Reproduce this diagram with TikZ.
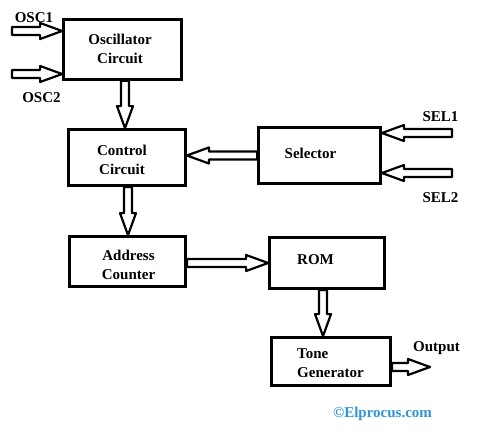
\documentclass[tikz,border=0pt]{standalone}
\usepackage{fontspec}
\setmainfont{Liberation Serif}
\usetikzlibrary{calc}
\definecolor{elp}{RGB}{45,150,215}
\tikzset{
  box/.style={draw, line width=2.8pt, rectangle, inner sep=0pt},
  lbl/.style={font=\fontsize{15}{19}\selectfont\bfseries, inner sep=0pt, align=center},
  blockarrow/.style={draw, line width=2.2pt, line join=round, fill=white, to path={
    let \p1=(\tikztostart), \p2=(\tikztotarget),
        \n1={veclen(\x2-\x1,\y2-\y1)}, \n2={atan2(\y2-\y1,\x2-\x1)} in
    ($(\p1)+(\n2+90:4pt)$) -- ($(\p1)+(\n2:{\n1-22pt})+(\n2+90:4pt)$)
    -- ($(\p1)+(\n2:{\n1-22pt})+(\n2+90:8pt)$) -- (\p2)
    -- ($(\p1)+(\n2:{\n1-22pt})+(\n2-90:8pt)$) -- ($(\p1)+(\n2:{\n1-22pt})+(\n2-90:4pt)$)
    -- ($(\p1)+(\n2-90:4pt)$) -- cycle
  }}
}
\begin{document}
\begin{tikzpicture}[x=1pt,y=-1pt]
\useasboundingbox[fill=white] (0,0) rectangle (481,441);
% boxes
\node[box, minimum width=118pt, minimum height=60pt] (osc) at (122.5,49.5) {};
\node[box, minimum width=117pt, minimum height=56pt] (ctrl) at (127,157.5) {};
\node[box, minimum width=122pt, minimum height=56pt] (sel) at (319.5,155.5) {};
\node[box, minimum width=116pt, minimum height=50pt] (addr) at (127.5,261.5) {};
\node[box, minimum width=115pt, minimum height=51pt] (rom) at (327,263) {};
\node[box, minimum width=119pt, minimum height=48pt] (tone) at (331,361.5) {};
% box texts
\node[lbl] (osct) at (120,48.5) {Oscillator\\Circuit};
\node[lbl] (ctrlt) at (122,160) {Control\\Circuit};
\node[lbl] (selt) at (310.5,153.5) {Selector};
\node[lbl] (addrt) at (128.5,265) {Address\\Counter};
\node[lbl] (romt) at (315.5,260) {ROM};
\node[lbl, align=left, anchor=west] (tonet) at (297,363.5) {Tone\\Generator};
% labels
\node[lbl] (osc1l) at (34,18) {OSC1};
\node[lbl] (osc2l) at (41.5,98) {OSC2};
\node[lbl] (sel1l) at (440.5,117) {SEL1};
\node[lbl] (sel2l) at (440.5,198) {SEL2};
\node[lbl] (outl) at (436.5,348) {Output};
\node[lbl, text=elp] (wm) at (382.5,414) {©Elprocus.com};
% free ends
\coordinate (osc1s) at (12,31);
\coordinate (osc2s) at (12,74);
\coordinate (sel1s) at (452,133);
\coordinate (sel2s) at (452,173);
\coordinate (oute) at (430,367);
% arrows
\draw[blockarrow] (osc1s) to (osc1s -| osc.west);
\draw[blockarrow] (osc2s) to (osc2s -| osc.west);
\draw[blockarrow] ([xshift=2.5pt]osc.south) to ([xshift=-2pt]ctrl.north);
\draw[blockarrow] ([xshift=1pt]ctrl.south) to ([xshift=0.5pt]addr.north);
\draw[blockarrow] (sel.west) to (sel.west -| ctrl.east);
\draw[blockarrow] (sel1s) to (sel1s -| sel.east);
\draw[blockarrow] (sel2s) to (sel2s -| sel.east);
\draw[blockarrow] ([yshift=-1.5pt]addr.east) to ([yshift=-1.5pt]addr.east -| rom.west);
\draw[blockarrow] ([xshift=-4pt]rom.south) to ([xshift=-8pt]tone.north);
\draw[blockarrow] (oute -| tone.east) to (oute);
\end{tikzpicture}
\end{document}
